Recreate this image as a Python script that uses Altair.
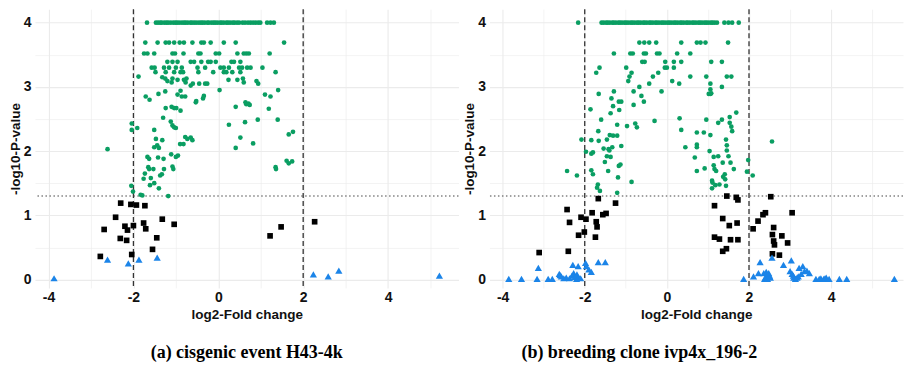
import altair as alt
import pandas as pd

# ---------------- data ----------------
fc_cut = [-2, 2]          # dashed vertical thresholds
p_cut = [1.301]           # -log10(0.05)

# Panel (a): cisgenic event H43-4k
a_green = [
    (-1.68, 4.0), (-1.47, 4.0), (-1.42, 4.0), (-1.37, 4.0), (-1.33, 4.0), (-1.27, 4.0), (-1.22, 4.0),
    (-1.18, 4.0), (-1.12, 4.0), (-1.06, 4.0), (-1.01, 4.0), (-0.97, 4.0), (-0.92, 4.0), (-0.86, 4.0),
    (-0.81, 4.0), (-0.77, 4.0), (-0.72, 4.0), (-0.66, 4.0), (-0.62, 4.0), (-0.57, 4.0), (-0.52, 4.0),
    (-0.46, 4.0), (-0.41, 4.0), (-0.37, 4.0), (-0.32, 4.0), (-0.26, 4.0), (-0.22, 4.0), (-0.16, 4.0),
    (-0.11, 4.0), (-0.07, 4.0), (-0.02, 4.0), (0.04, 4.0), (0.08, 4.0), (0.13, 4.0), (0.19, 4.0),
    (0.23, 4.0), (0.28, 4.0), (0.34, 4.0), (0.38, 4.0), (0.44, 4.0), (0.49, 4.0), (0.57, 4.0),
    (0.63, 4.0), (0.70, 4.0), (0.76, 4.0), (0.82, 4.0), (0.88, 4.0), (0.94, 4.0), (0.99, 4.0),
    (1.15, 4.0), (1.23, 4.0), (1.31, 4.0),
    (-1.72, 3.69), (-1.43, 3.69), (-1.24, 3.69), (-1.16, 3.69), (-1.04, 3.69), (-0.91, 3.69),
    (-0.81, 3.69), (-0.61, 3.69), (-0.40, 3.69), (-0.34, 3.69), (-0.18, 3.69), (0.13, 3.69),
    (0.41, 3.69), (1.55, 3.69),
    (-1.75, 3.52), (-1.67, 3.52), (-1.51, 3.52), (-1.08, 3.52), (-1.02, 3.52), (-0.82, 3.52),
    (-0.47, 3.52), (-0.42, 3.52), (-0.06, 3.52), (0.02, 3.52), (0.45, 3.52), (0.60, 3.52),
    (0.66, 3.52), (0.72, 3.52), (1.21, 3.52),
    (-1.20, 3.39), (-1.08, 3.39), (-0.96, 3.39), (-0.65, 3.39), (-0.57, 3.39), (-0.40, 3.39),
    (-0.24, 3.39), (-0.18, 3.39), (-0.06, 3.39), (0.31, 3.39), (0.37, 3.39), (0.52, 3.39),
    (-1.57, 3.30), (-1.50, 3.30), (-1.28, 3.30), (-1.16, 3.30), (-1.00, 3.30), (-0.86, 3.30),
    (-0.49, 3.30), (-0.31, 3.30), (0.05, 3.30), (0.13, 3.30), (0.25, 3.30), (0.49, 3.30),
    (0.56, 3.30), (0.68, 3.30), (0.76, 3.30), (1.04, 3.30),
    (-1.48, 3.23), (-1.24, 3.23), (-1.04, 3.23), (-0.89, 3.23), (-0.83, 3.23), (-0.47, 3.23),
    (-0.12, 3.23), (0.13, 3.23), (0.19, 3.23), (0.33, 3.23), (0.52, 3.23), (1.35, 3.23),
    (-1.88, 3.16), (-1.32, 3.15), (-1.25, 3.13), (-1.20, 3.09), (-1.08, 3.13), (-1.10, 3.07),
    (-0.96, 3.11), (-0.81, 3.11), (-0.77, 3.07), (-0.75, 3.13), (-0.65, 3.02), (-0.60, 3.05),
    (-0.45, 3.05), (-0.31, 3.05), (-0.26, 3.05), (0.03, 2.95), (0.24, 3.11), (0.45, 3.11),
    (0.58, 3.13), (0.60, 3.07), (0.90, 3.09), (0.94, 3.05),
    (-1.71, 2.85), (-1.62, 2.80), (-1.41, 2.89), (-1.25, 2.93), (-0.96, 2.88), (-0.89, 2.94),
    (-0.86, 2.85), (-0.78, 2.85), (-0.53, 2.76), (-0.52, 2.78), (-0.36, 2.82), (-0.34, 2.86),
    (1.10, 2.88), (1.23, 2.85), (1.41, 2.95),
    (-1.24, 2.67), (-1.10, 2.69), (-1.04, 2.67), (-0.99, 2.67), (-0.89, 2.63), (0.41, 2.69),
    (0.64, 2.76), (0.66, 2.73), (0.71, 2.74), (0.74, 2.72), (1.19, 2.66), (-1.30, 2.52),
    (-1.12, 2.46), (-1.08, 2.40), (-1.04, 2.37), (-1.00, 2.36), (0.25, 2.41), (0.63, 2.45),
    (0.93, 2.49), (1.40, 2.49), (-2.04, 2.43), (-2.04, 2.33), (-1.91, 2.36), (-1.51, 2.33),
    (-1.47, 2.19), (-1.32, 2.17), (-0.78, 2.22), (-0.73, 2.19), (-0.65, 2.21), (-0.61, 2.17),
    (0.52, 2.21), (1.66, 2.26), (1.76, 2.30), (-2.61, 2.03),
    (-1.51, 2.06), (-1.44, 2.09), (-1.40, 2.05), (-0.90, 2.11), (-0.82, 2.11), (0.41, 2.05),
    (0.82, 2.12),
    (-1.67, 1.91), (-1.63, 1.88), (-1.42, 1.90), (-1.29, 1.88), (-1.11, 1.95), (-1.00, 1.91),
    (-0.95, 1.93), (-1.65, 1.75), (-1.63, 1.72), (-1.53, 1.72), (-1.28, 1.72), (-1.08, 1.76),
    (-1.06, 1.72), (-1.73, 1.65), (-1.76, 1.57), (-1.59, 1.58), (-1.51, 1.50), (-1.61, 1.47),
    (-1.37, 1.62), (-1.33, 1.64), (-1.40, 1.42), (-2.05, 1.46), (-2.01, 1.37), (-1.83, 1.32),
    (-1.79, 1.31), (-1.18, 1.30), (1.35, 1.75), (1.36, 1.72), (1.61, 1.85), (1.66, 1.81),
    (1.74, 1.84),
]
a_black = [
    (-2.30, 1.19), (-2.06, 1.17), (-1.93, 1.16), (-1.73, 1.15), (-2.42, 0.97), (-2.69, 0.78),
    (-2.20, 0.83), (-2.14, 0.77), (-2.00, 0.84), (-1.76, 0.88), (-1.71, 0.79), (-1.32, 0.94),
    (-1.04, 0.86), (-2.31, 0.64), (-2.16, 0.61), (-1.45, 0.65), (-1.55, 0.47), (-2.04, 0.39),
    (-2.78, 0.36), (1.22, 0.68), (1.48, 0.82), (2.27, 0.90),
]
a_blue = [
    (-3.87, 0.02), (-2.61, 0.31), (-2.12, 0.25), (-1.87, 0.31), (-1.44, 0.34), (2.24, 0.08),
    (2.59, 0.05), (2.84, 0.14), (5.21, 0.06),
]

# Panel (b): breeding clone ivp4x_196-2
b_green = [
    (-2.16, 4.0), (-1.59, 4.0), (-1.54, 4.0), (-1.48, 4.0), (-1.44, 4.0), (-1.39, 4.0), (-1.33, 4.0),
    (-1.29, 4.0), (-1.24, 4.0), (-1.18, 4.0), (-1.14, 4.0), (-1.09, 4.0), (-1.03, 4.0), (-0.99, 4.0),
    (-0.94, 4.0), (-0.88, 4.0), (-0.84, 4.0), (-0.79, 4.0), (-0.73, 4.0), (-0.69, 4.0), (-0.64, 4.0),
    (-0.58, 4.0), (-0.54, 4.0), (-0.49, 4.0), (-0.43, 4.0), (-0.39, 4.0), (-0.34, 4.0), (-0.28, 4.0),
    (-0.24, 4.0), (-0.19, 4.0), (-0.13, 4.0), (-0.09, 4.0), (-0.04, 4.0), (0.02, 4.0), (0.06, 4.0),
    (0.11, 4.0), (0.17, 4.0), (0.21, 4.0), (0.26, 4.0), (0.32, 4.0), (0.36, 4.0), (0.41, 4.0),
    (0.47, 4.0), (0.51, 4.0), (0.56, 4.0), (0.62, 4.0), (0.66, 4.0), (0.71, 4.0), (0.77, 4.0),
    (0.81, 4.0), (0.86, 4.0), (0.92, 4.0), (0.96, 4.0), (1.01, 4.0), (1.07, 4.0), (1.11, 4.0),
    (1.16, 4.0), (1.22, 4.0), (1.40, 4.0), (1.50, 4.0), (1.59, 4.0), (1.75, 4.0),
    (-0.67, 3.69), (-0.55, 3.69), (-0.43, 3.69), (-0.26, 3.69), (0.35, 3.69), (0.73, 3.69),
    (0.82, 3.69), (0.94, 3.69), (1.49, 3.69),
    (-1.29, 3.52), (-0.89, 3.52), (-0.83, 3.52), (-0.56, 3.52), (-0.51, 3.52), (-0.24, 3.52),
    (-0.18, 3.52), (0.25, 3.52), (0.57, 3.52),
    (-0.60, 3.39), (-0.54, 3.39), (-0.04, 3.39), (0.17, 3.39), (0.35, 3.39), (1.08, 3.39),
    (1.34, 3.39), (-0.05, 3.30), (0.00, 3.30), (0.17, 3.30),
    (-1.72, 3.22), (-1.64, 3.30), (-0.99, 3.30), (-0.86, 3.22), (-0.21, 3.22), (-0.34, 3.16),
    (0.13, 3.09), (0.57, 3.16), (0.96, 3.16), (1.46, 3.16), (1.57, 3.16), (-0.91, 3.16),
    (-0.94, 3.09), (0.30, 3.05), (1.06, 3.05), (-0.43, 3.05), (1.06, 2.96), (1.08, 2.90),
    (1.34, 3.00), (-0.13, 2.93), (-0.67, 3.00), (-0.81, 2.93), (-1.66, 2.89), (-1.29, 2.93),
    (-1.35, 2.82), (-1.17, 2.77), (-1.11, 2.77), (-0.62, 2.86), (-0.56, 2.77), (-1.86, 2.65),
    (-1.16, 2.64), (-1.31, 2.70), (-1.37, 2.59), (-0.81, 2.72), (-1.60, 2.49), (-1.21, 2.41),
    (-0.97, 2.39), (-0.77, 2.43), (-0.73, 2.37), (-0.30, 2.47), (0.31, 2.51), (0.35, 2.33),
    (0.96, 2.49), (1.02, 2.89), (1.06, 2.89), (1.25, 2.44), (1.34, 2.49), (1.53, 2.53),
    (1.53, 2.44), (1.69, 2.60), (1.57, 2.38), (-1.67, 2.31), (-2.08, 2.18), (-1.84, 2.17),
    (-1.66, 2.16), (-1.46, 2.18), (-1.39, 2.25), (-1.31, 2.24), (-1.21, 2.24), (0.73, 2.29),
    (0.90, 2.29), (1.06, 2.25), (1.44, 2.18), (1.59, 2.31), (-1.54, 2.04), (-1.42, 2.03),
    (-1.33, 2.06), (-1.11, 2.08), (0.45, 2.06), (0.73, 2.10), (0.73, 2.06), (1.46, 2.09),
    (2.56, 2.15),
    (-2.43, 1.69), (-2.19, 1.62), (-1.97, 1.99), (-1.84, 1.96), (-1.80, 1.98), (-1.84, 1.70),
    (-1.80, 1.64), (-1.46, 1.92), (-1.40, 2.01), (-1.37, 1.91), (-1.51, 1.83), (-1.43, 1.69),
    (-1.17, 1.77), (-1.13, 1.79), (-1.19, 1.59), (-1.68, 1.48), (-1.70, 1.43), (-1.63, 1.38),
    (-1.21, 1.35), (-0.86, 1.52), (0.68, 1.90), (1.04, 2.00), (1.14, 1.91), (1.25, 1.92),
    (1.46, 2.01), (1.50, 1.92), (1.14, 1.78), (1.16, 1.72), (1.20, 1.69), (0.92, 1.73),
    (0.73, 1.69), (1.36, 1.82), (1.55, 1.82), (1.63, 1.72), (1.95, 1.68), (1.98, 1.86),
    (2.09, 1.62), (1.10, 1.54), (1.11, 1.51), (1.18, 1.47), (1.28, 1.48), (1.10, 1.42),
    (1.42, 1.56), (1.41, 1.64), (1.44, 1.46), (1.37, 1.60),
]
b_black = [
    (-1.67, 1.26), (-1.25, 1.19), (-2.43, 1.09), (-2.37, 0.89), (-2.09, 0.97), (-1.97, 0.94),
    (-1.82, 1.04), (-1.72, 0.90), (-1.70, 0.82), (-1.56, 1.01), (-1.48, 1.03), (-2.01, 0.74),
    (-2.15, 0.69), (-1.74, 0.66), (-2.40, 0.44), (-3.11, 0.42),
    (1.16, 1.15), (1.46, 1.30), (1.69, 1.28), (1.73, 1.24), (1.36, 0.95), (1.52, 0.84),
    (1.71, 0.88), (1.16, 0.66), (1.28, 0.63), (1.55, 0.62), (1.73, 0.62), (1.36, 0.44),
    (1.45, 0.48),
    (2.53, 1.29), (3.05, 1.04), (2.40, 1.04), (2.34, 1.01), (2.22, 0.91), (2.10, 0.79),
    (2.60, 0.81), (2.57, 0.70), (2.80, 0.68), (2.60, 0.60), (2.62, 0.54), (2.94, 0.57),
    (2.57, 0.40), (2.74, 0.38),
]
b_blue = [
    (-3.85, 0.01), (-3.54, 0.01), (-3.16, 0.01), (-3.13, 0.18), (-2.89, 0.01), (-2.79, 0.01),
    (-2.62, 0.09), (-2.60, 0.07), (-2.57, 0.05), (-2.51, 0.02), (-2.45, 0.03), (-2.37, 0.02),
    (-2.31, 0.06), (-2.27, 0.10), (-2.24, 0.04), (-2.20, 0.01), (-2.19, 0.08), (-2.15, 0.03),
    (-2.10, 0.02), (-2.29, 0.23), (-2.16, 0.21), (-1.98, 0.26), (-1.96, 0.21), (-1.90, 0.16),
    (-1.84, 0.12), (-1.67, 0.27), (-1.50, 0.27),
    (1.87, 0.01), (2.11, 0.05), (2.23, 0.10), (2.27, 0.27), (2.36, 0.10), (2.38, 0.01),
    (2.40, 0.03), (2.42, 0.12), (2.44, 0.05), (2.45, 0.01), (2.48, 0.10), (2.50, 0.06),
    (2.52, 0.03), (2.56, 0.34), (2.84, 0.23), (3.03, 0.30), (3.00, 0.13), (3.05, 0.09),
    (3.08, 0.06), (3.09, 0.03), (3.13, 0.01), (3.17, 0.03), (3.20, 0.05), (3.22, 0.18),
    (3.27, 0.09), (3.31, 0.21), (3.35, 0.13), (3.41, 0.14), (3.47, 0.10), (3.63, 0.01),
    (3.71, 0.01), (3.75, 0.02), (3.82, 0.01), (3.85, 0.02), (3.88, 0.03), (3.95, 0.01),
    (4.20, 0.01), (4.38, 0.01), (5.54, 0.01),
]

x_ticks = [-4, -3, -2, -1, 0, 1, 2, 3, 4, 5]
y_ticks = [0, 0.5, 1, 1.5, 2, 2.5, 3, 3.5, 4]

captions = ["(a) cisgenic event H43-4k", "(b) breeding clone ivp4x_196-2"]

GREEN = "#0A9E62"
BLUE = "#1B84E8"


def panel(green, black, blue, xdom, width, caption, cap_dx):
    xs = alt.Scale(domain=xdom, nice=False, zero=False)
    ys = alt.Scale(domain=[-0.13, 4.21], nice=False, zero=False)
    xax = alt.Axis(
        values=x_ticks,
        labelExpr="datum.value % 2 === 0 ? '' + datum.value : ''",
        title="log2-Fold change",
        labelPadding=3,
        titlePadding=3,
        gridWidth={"condition": {"test": "datum.value % 2 !== 0", "value": 0.6}, "value": 1.1},
    )
    yax = alt.Axis(
        values=y_ticks,
        labelExpr="datum.value % 1 === 0 ? '' + datum.value : ''",
        title="-log10-P-value",
        labelPadding=4,
        titlePadding=1,
        gridWidth={"condition": {"test": "datum.value % 1 !== 0", "value": 0.6}, "value": 1.1},
    )
    X = alt.X("fc:Q", scale=xs, axis=xax)
    Y = alt.Y("p:Q", scale=ys, axis=yax)

    g = alt.Chart(pd.DataFrame(green, columns=["fc", "p"])).mark_point(
        shape="circle", filled=True, size=22, color=GREEN, opacity=1
    ).encode(x=X, y=Y)
    k = alt.Chart(pd.DataFrame(black, columns=["fc", "p"])).mark_point(
        shape="square", filled=True, size=32, color="#000000", opacity=1
    ).encode(x=X, y=Y)
    b = alt.Chart(pd.DataFrame(blue, columns=["fc", "p"])).mark_point(
        shape="triangle-up", filled=True, size=52, color=BLUE, opacity=1
    ).encode(x=X, y=Y)
    vl = alt.Chart(pd.DataFrame({"fc": fc_cut})).mark_rule(
        color="#333333", strokeDash=[5, 3], strokeWidth=1.3
    ).encode(x=X)
    hl = alt.Chart(pd.DataFrame({"p": p_cut})).mark_rule(
        color="#444444", strokeDash=[1.5, 2.5], strokeWidth=1.2
    ).encode(y=Y)

    return alt.layer(vl, hl, g, k, b).properties(
        width=width,
        height=279,
        title=alt.TitleParams(
            caption,
            orient="bottom",
            anchor="middle",
            font="Liberation Serif",
            fontSize=18,
            fontWeight="bold",
            color="#000000",
            offset=23,
            dx=cap_dx,
        ),
    )


pa = panel(a_green, a_black, a_blue, [-4.32, 5.66], 424, captions[0], 0)
pb = panel(b_green, b_black, b_blue, [-4.32, 5.75], 414, captions[1], -57)

chart = alt.hconcat(pa, pb, spacing=3).properties(
    padding={"left": 0, "top": 0, "right": 0, "bottom": 0}
).configure_axis(
    domain=False,
    ticks=False,
    labelFont="Liberation Sans",
    labelFontWeight="bold",
    labelFontSize=14,
    labelColor="#111111",
    titleFont="Liberation Sans",
    titleFontWeight="bold",
    titleFontSize=13.5,
    titleColor="#111111",
    gridColor="#EBEBEB",
).configure_view(stroke=None).configure_title(
    font="Liberation Serif"
)

chart.save("out.html", embed_options={"renderer": "svg", "actions": False})
